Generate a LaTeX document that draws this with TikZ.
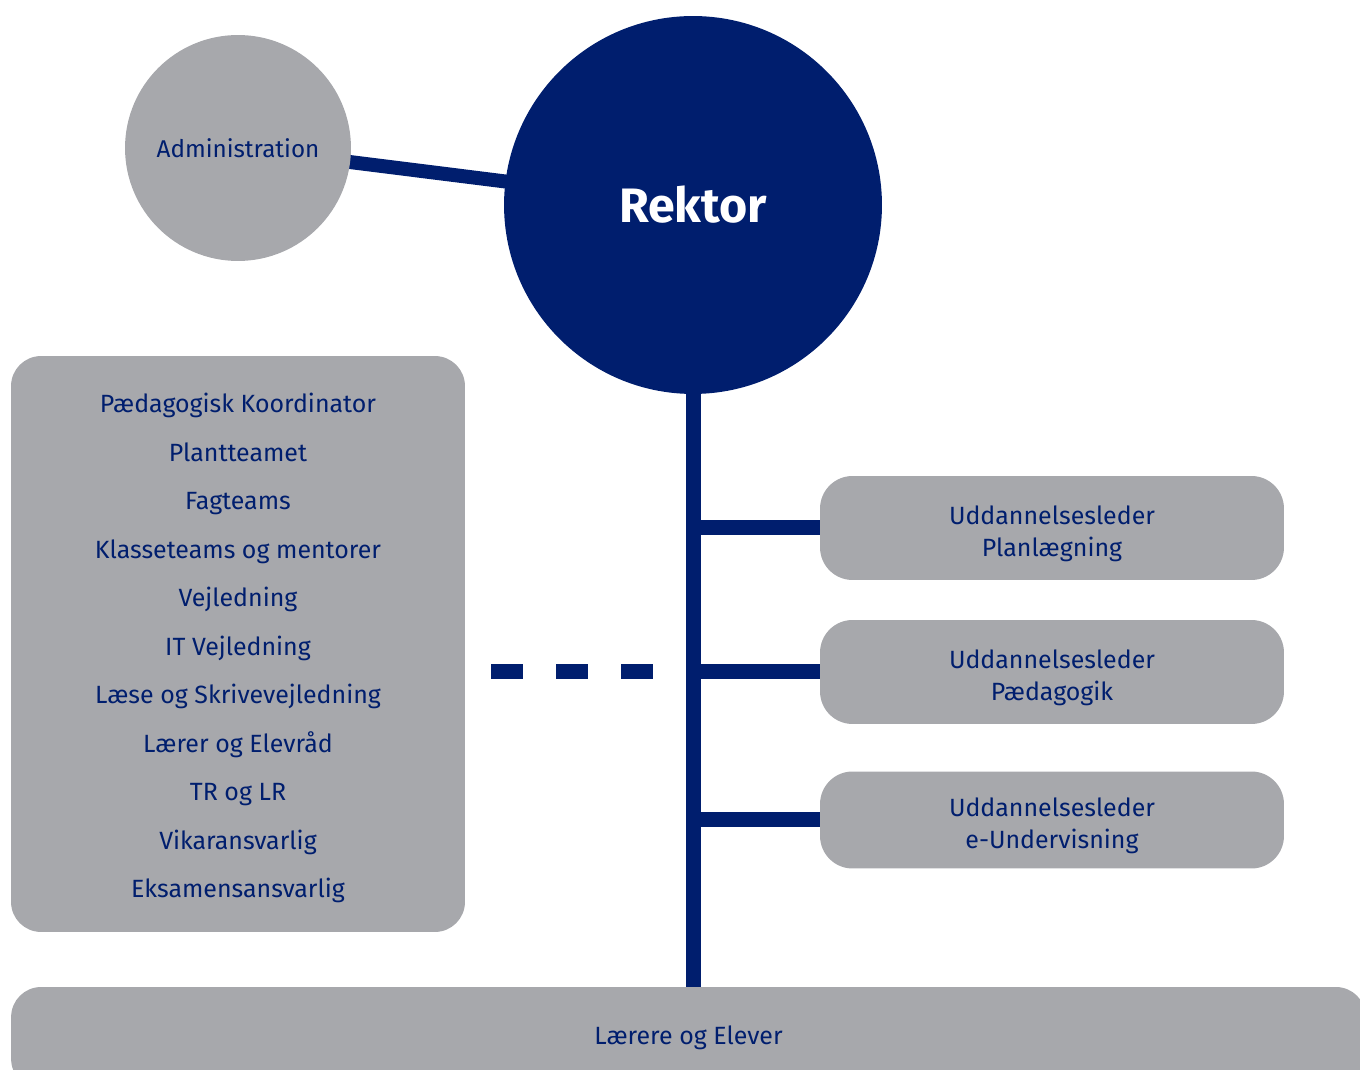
\documentclass[tikz,border=0pt]{standalone}
\usepackage{fontspec}
\setmainfont{Fira Sans}
\usetikzlibrary{backgrounds}
\definecolor{rektorblue}{RGB}{0,30,110}
\definecolor{unitgray}{RGB}{167,168,172}
% taller first line pushes the text block a little lower in its box
\newcommand{\boxstrut}[1]{\rule{0pt}{#1}}
\tikzset{
    orgcircle/.style={circle, fill=#1, inner sep=0pt},
    orgbox/.style={rectangle, fill=unitgray, rounded corners=0.65cm, align=center, text=rektorblue, inner sep=0pt, font=\fontsize{14.2}{18.4}\selectfont},
    orgline/.style={draw=rektorblue, line width=0.3cm},
    orgdash/.style={orgline, dash pattern=on 0.64cm off 0.66cm}
}

\begin{document}
\begin{tikzpicture}[x=0.02cm, y=-0.02cm]
\clip (0,0) rectangle (1360,1070);

% top of the organisation
\node[orgcircle=rektorblue, minimum size=7.56cm, text=white, font=\fontsize{27.5}{32}\selectfont\bfseries] (rektor) at (693,205) {Rektor};
\node[orgcircle=unitgray, minimum size=4.52cm, text=rektorblue, font=\fontsize{13.8}{18}\selectfont] (admin) at (238,148) {Administration};

% staff functions
\node[orgbox, rounded corners=0.6cm, minimum width=9.08cm, minimum height=11.52cm, font=\fontsize{14.2}{27.6}\selectfont] (staff) at (238,644) {\boxstrut{0.56cm}Pædagogisk Koordinator\\Plantteamet\\Fagteams\\Klasseteams og mentorer\\Vejledning\\IT Vejledning\\Læse og Skrivevejledning\\Lærer og Elevråd\\TR og LR\\Vikaransvarlig\\Eksamensansvarlig};

% education leaders
\node[orgbox, minimum width=9.28cm, minimum height=2.08cm] (plan) at (1052,528) {\boxstrut{0.6cm}Uddannelsesleder\\Planlægning};
\node[orgbox, minimum width=9.28cm, minimum height=2.08cm] (paed) at (1052,672) {\boxstrut{0.6cm}Uddannelsesleder\\Pædagogik};
\node[orgbox, minimum width=9.28cm, minimum height=1.94cm] (eund) at (1052,820) {\boxstrut{0.6cm}Uddannelsesleder\\e-Undervisning};

% teachers and students
\node[orgbox, rounded corners=0.6cm, minimum width=27.1cm, minimum height=2.04cm] (base) at (688.5,1038) {Lærere og Elever};

\begin{scope}[on background layer]
    \draw[orgline, line width=0.28cm] (admin.center) -- (rektor.center);
    \draw[orgline] (rektor.center) -- (rektor.center |- base.north);
    \foreach \leader in {plan, paed, eund}
        \draw[orgline] (rektor.center |- \leader.west) -- (\leader.west);
    \draw[orgdash, shorten <=0.52cm, shorten >=0.76cm] (staff.east |- paed.west) -- (rektor.center |- paed.west);
\end{scope}

\end{tikzpicture}
\end{document}
